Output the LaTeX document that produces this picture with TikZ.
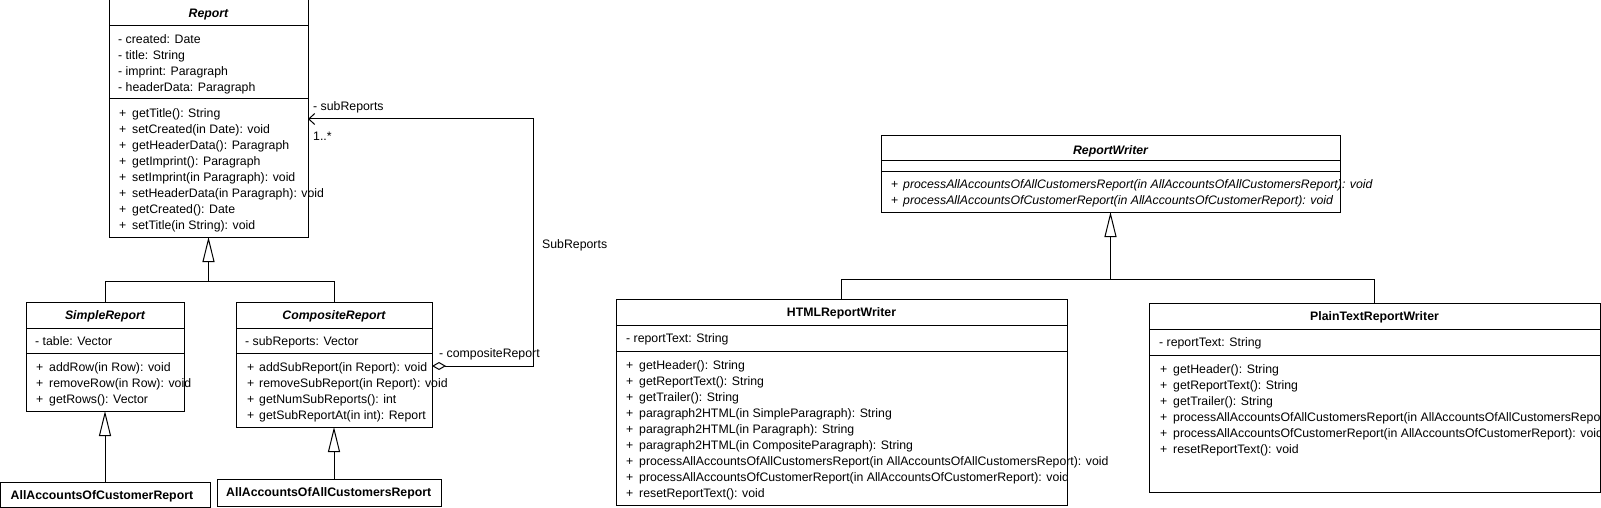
\documentclass[tikz,border=0pt]{standalone}
\usepackage{fontspec}
\setmainfont{Liberation Sans}
\usepackage{tikz}
\usetikzlibrary{positioning, arrows.meta, calc}

\tikzset{
    frame/.style={draw=black, line width=1pt, inner sep=0pt, outer sep=0pt, anchor=north west},
    member/.style={inner sep=0pt, anchor=base west, font=\fontsize{12.3}{15}\selectfont},
    ctitle/.style={inner sep=0pt, anchor=base, font=\fontsize{12.3}{15}\selectfont\bfseries},
    inherit/.style={line width=1pt, -{Triangle[open, length=25pt, width=12pt]}},
    subrel/.style={line width=1pt, {Diamond[open, length=14pt, width=8pt]}-{Straight Barb[length=6pt, width=11pt]}}
}

% separator inside a class frame
\def\csep#1#2{%
    \draw[line width=1pt] ($(#1.north west)+(0,#2)$) -- ($(#1.north east)+(0,#2)$);
}

% attribute rows: frame, indent, centre of first row, list
\def\attrs#1#2#3#4{%
    \foreach \txt [count=\i] in {#4}
    {
        \node[member] (#1-a\i) at ($(#1.north west)+(#2,#3+4.4+16*\i-16)$) {\txt};
    }
}

% operation rows: frame, plus indent, name indent, centre of first row, list
\def\ops#1#2#3#4#5{%
    \foreach \txt [count=\i] in {#5}
    {
        \node[member] (#1-p\i) at ($(#1.north west)+(#2,#4+4.4+16*\i-16)$) {+};
        \node[member] (#1-m\i) at ($(#1.north west)+(#3,#4+4.4+16*\i-16)$) {\txt};
    }
}

\begin{document}
\begin{tikzpicture}[x=1pt, y=-1pt]
    \useasboundingbox (0,0) rectangle (1601,508);
    \clip (0,0) rectangle (1601,508);

    % report hierarchy
    \node[frame, minimum width=199pt, minimum height=237pt] (report) at (109,0) {};
    \csep{report}{26}
    \csep{report}{99}
    \node[ctitle] (report-t) at ($(report.north)+(0,17.4)$) {\itshape Report};
    \attrs{report}{9}{39}{- created: Date, - title: String, - imprint: Paragraph, - headerData: Paragraph}
    \ops{report}{10}{23}{113}{getTitle(): String, setCreated(in Date): void, getHeaderData(): Paragraph, getImprint(): Paragraph, setImprint(in Paragraph): void, setHeaderData(in Paragraph): void, getCreated(): Date, setTitle(in String): void}

    \node[frame, minimum width=158pt, minimum height=109pt] (simple) at (26,302) {};
    \csep{simple}{26}
    \csep{simple}{51}
    \node[ctitle] (simple-t) at ($(simple.north)+(0,17.4)$) {\itshape SimpleReport};
    \attrs{simple}{9}{39}{- table: Vector}
    \ops{simple}{10}{23}{65}{addRow(in Row): void, removeRow(in Row): void, getRows(): Vector}

    \node[frame, minimum width=196pt, minimum height=125pt] (composite) at (236,302) {};
    \csep{composite}{26}
    \csep{composite}{51}
    \node[ctitle] (composite-t) at ($(composite.north)+(0,17.4)$) {\itshape CompositeReport};
    \attrs{composite}{9}{39}{- subReports: Vector}
    \ops{composite}{11}{23}{65}{addSubReport(in Report): void, removeSubReport(in Report): void, getNumSubReports(): int, getSubReportAt(in int): Report}

    \node[frame, minimum width=210pt, minimum height=25pt] (customer) at (0.5,482) {};
    \node[member, font=\fontsize{12.3}{15}\selectfont\bfseries] (customer-t) at ($(customer.north west)+(10,17.4)$) {AllAccountsOfCustomerReport};

    \node[frame, minimum width=224pt, minimum height=27pt] (allcust) at (217,479) {};
    \node[member, font=\fontsize{12.3}{15}\selectfont\bfseries] (allcust-t) at ($(allcust.north west)+(9,17.4)$) {AllAccountsOfAllCustomersReport};

    % writer hierarchy
    \node[frame, minimum width=459pt, minimum height=76pt] (writer) at (881,136) {};
    \csep{writer}{25}
    \csep{writer}{35}
    \node[ctitle] (writer-t) at ($(writer.north)+(0,18.4)$) {\itshape ReportWriter};
    \ops{writer}{10}{22}{48}{\itshape processAllAccountsOfAllCustomersReport(in AllAccountsOfAllCustomersReport): void, \itshape processAllAccountsOfCustomerReport(in AllAccountsOfCustomerReport): void}

    \node[frame, minimum width=451pt, minimum height=206pt] (html) at (616,299) {};
    \csep{html}{26}
    \csep{html}{52}
    \node[ctitle] (html-t) at ($(html.north)+(0,17.4)$) {HTMLReportWriter};
    \attrs{html}{10}{39}{- reportText: String}
    \ops{html}{10}{23}{66}{getHeader(): String, getReportText(): String, getTrailer(): String, paragraph2HTML(in SimpleParagraph): String, paragraph2HTML(in Paragraph): String, paragraph2HTML(in CompositeParagraph): String, processAllAccountsOfAllCustomersReport(in AllAccountsOfAllCustomersReport): void, processAllAccountsOfCustomerReport(in AllAccountsOfCustomerReport): void, resetReportText(): void}

    \node[frame, minimum width=451pt, minimum height=189pt] (plain) at (1149,303) {};
    \csep{plain}{26}
    \csep{plain}{52}
    \node[ctitle] (plain-t) at ($(plain.north)+(0,17.4)$) {PlainTextReportWriter};
    \attrs{plain}{10}{39}{- reportText: String}
    \ops{plain}{11}{24}{66}{getHeader(): String, getReportText(): String, getTrailer(): String, processAllAccountsOfAllCustomersReport(in AllAccountsOfAllCustomersReport): void, processAllAccountsOfCustomerReport(in AllAccountsOfCustomerReport): void, resetReportText(): void}

    % generalizations
    \coordinate (repfork) at ($(report.south)+(0,44)$);
    \draw[inherit] (simple.north) |- (repfork) -- (report.south);
    \draw[line width=1pt] (composite.north) |- (repfork);
    \draw[inherit] (simple.south |- customer.north) -- (simple.south);
    \draw[inherit] (composite.south |- allcust.north) -- (composite.south);

    \coordinate (wrfork) at ($(writer.south)+(0,67)$);
    \draw[inherit] (html.north) |- (wrfork) -- (writer.south);
    \draw[line width=1pt] (plain.north) |- (wrfork);

    % sub reports
    \coordinate (aggcorner) at (533,366);
    \coordinate (asscorner) at (533,119);
    \draw[subrel] (composite.east |- aggcorner) -- (aggcorner) -- (asscorner) -- (report.east |- asscorner);
    \node[member] (lbl-sub) at (313,110.4) {- subReports};
    \node[member] (lbl-mult) at (313,140.4) {1..*};
    \node[member] (lbl-rel) at (542,248.4) {SubReports};
    \node[member] (lbl-comp) at (439,357.4) {- compositeReport};
\end{tikzpicture}
\end{document}
